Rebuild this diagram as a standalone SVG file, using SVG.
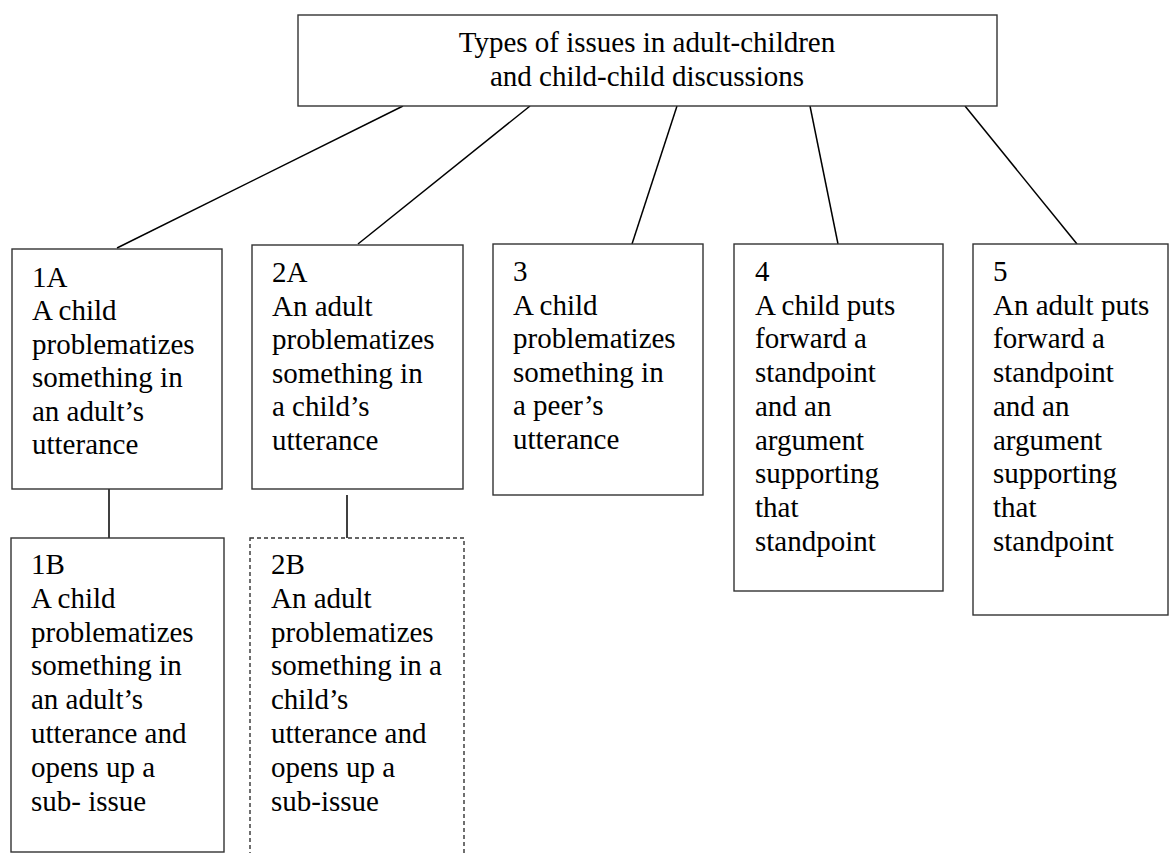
<svg xmlns="http://www.w3.org/2000/svg" width="1169" height="853" viewBox="0 0 1169 853">
<style>
.box{fill:#fff;stroke:#333;stroke-width:1.4}
.dash{fill:#fff;stroke:#333;stroke-width:1.4;stroke-dasharray:4 3}
.t{font-family:'Liberation Serif','DejaVu Serif',serif;font-size:29px;fill:#000}
.c{text-anchor:middle}
.conn line{stroke:#000;stroke-width:1.5}
</style>
<rect width="1169" height="853" fill="#fff"/>
<g id="connectors" class="conn">
<line x1="403" y1="106" x2="117" y2="248"/>
<line x1="530" y1="106" x2="358" y2="244"/>
<line x1="677" y1="106" x2="632" y2="244"/>
<line x1="810" y1="106" x2="838" y2="244"/>
<line x1="965" y1="106" x2="1077" y2="244"/>
<line x1="109" y1="489" x2="109" y2="538"/>
<line x1="347" y1="495" x2="347" y2="538"/>
</g>
<g id="root">
<rect class="box" x="298" y="15" width="699" height="91"/>
<text class="t c" x="647" y="52">Types of issues in adult-children</text>
<text class="t c" x="647" y="86">and child-child discussions</text>
</g>
<g id="n1A">
<rect class="box" x="12" y="249" width="210" height="240"/>
<text class="t" x="32" y="287"><tspan x="32">1A</tspan><tspan x="32" dy="33.4">A child</tspan><tspan x="32" dy="33.4">problematizes</tspan><tspan x="32" dy="33.4">something in</tspan><tspan x="32" dy="33.4">an adult’s</tspan><tspan x="32" dy="33.4">utterance</tspan></text>
</g>
<g id="n2A">
<rect class="box" x="252" y="245" width="211" height="244"/>
<text class="t" x="272" y="282"><tspan x="272">2A</tspan><tspan x="272" dy="33.6">An adult</tspan><tspan x="272" dy="33.6">problematizes</tspan><tspan x="272" dy="33.6">something in</tspan><tspan x="272" dy="33.6">a child’s</tspan><tspan x="272" dy="33.6">utterance</tspan></text>
</g>
<g id="n3">
<rect class="box" x="493" y="244" width="210" height="251"/>
<text class="t" x="513" y="281"><tspan x="513">3</tspan><tspan x="513" dy="33.6">A child</tspan><tspan x="513" dy="33.6">problematizes</tspan><tspan x="513" dy="33.6">something in</tspan><tspan x="513" dy="33.6">a peer’s</tspan><tspan x="513" dy="33.6">utterance</tspan></text>
</g>
<g id="n4">
<rect class="box" x="734" y="244" width="209" height="347"/>
<text class="t" x="755" y="281"><tspan x="755">4</tspan><tspan x="755" dy="33.7">A child puts</tspan><tspan x="755" dy="33.7">forward a</tspan><tspan x="755" dy="33.7">standpoint</tspan><tspan x="755" dy="33.7">and an</tspan><tspan x="755" dy="33.7">argument</tspan><tspan x="755" dy="33.7">supporting</tspan><tspan x="755" dy="33.7">that</tspan><tspan x="755" dy="33.7">standpoint</tspan></text>
</g>
<g id="n5">
<rect class="box" x="973" y="244" width="195" height="371"/>
<text class="t" x="993" y="281"><tspan x="993">5</tspan><tspan x="993" dy="33.7">An adult puts</tspan><tspan x="993" dy="33.7">forward a</tspan><tspan x="993" dy="33.7">standpoint</tspan><tspan x="993" dy="33.7">and an</tspan><tspan x="993" dy="33.7">argument</tspan><tspan x="993" dy="33.7">supporting</tspan><tspan x="993" dy="33.7">that</tspan><tspan x="993" dy="33.7">standpoint</tspan></text>
</g>
<g id="n1B">
<rect class="box" x="11" y="538" width="213" height="314"/>
<text class="t" x="31" y="574"><tspan x="31">1B</tspan><tspan x="31" dy="33.8">A child</tspan><tspan x="31" dy="33.8">problematizes</tspan><tspan x="31" dy="33.8">something in</tspan><tspan x="31" dy="33.8">an adult’s</tspan><tspan x="31" dy="33.8">utterance and</tspan><tspan x="31" dy="33.8">opens up a</tspan><tspan x="31" dy="33.8">sub- issue</tspan></text>
</g>
<g id="n2B">
<rect class="dash" x="250" y="538" width="214" height="330"/>
<text class="t" x="271" y="574"><tspan x="271">2B</tspan><tspan x="271" dy="33.8">An adult</tspan><tspan x="271" dy="33.8">problematizes</tspan><tspan x="271" dy="33.8">something in a</tspan><tspan x="271" dy="33.8">child’s</tspan><tspan x="271" dy="33.8">utterance and</tspan><tspan x="271" dy="33.8">opens up a</tspan><tspan x="271" dy="33.8">sub-issue</tspan></text>
</g>
</svg>
